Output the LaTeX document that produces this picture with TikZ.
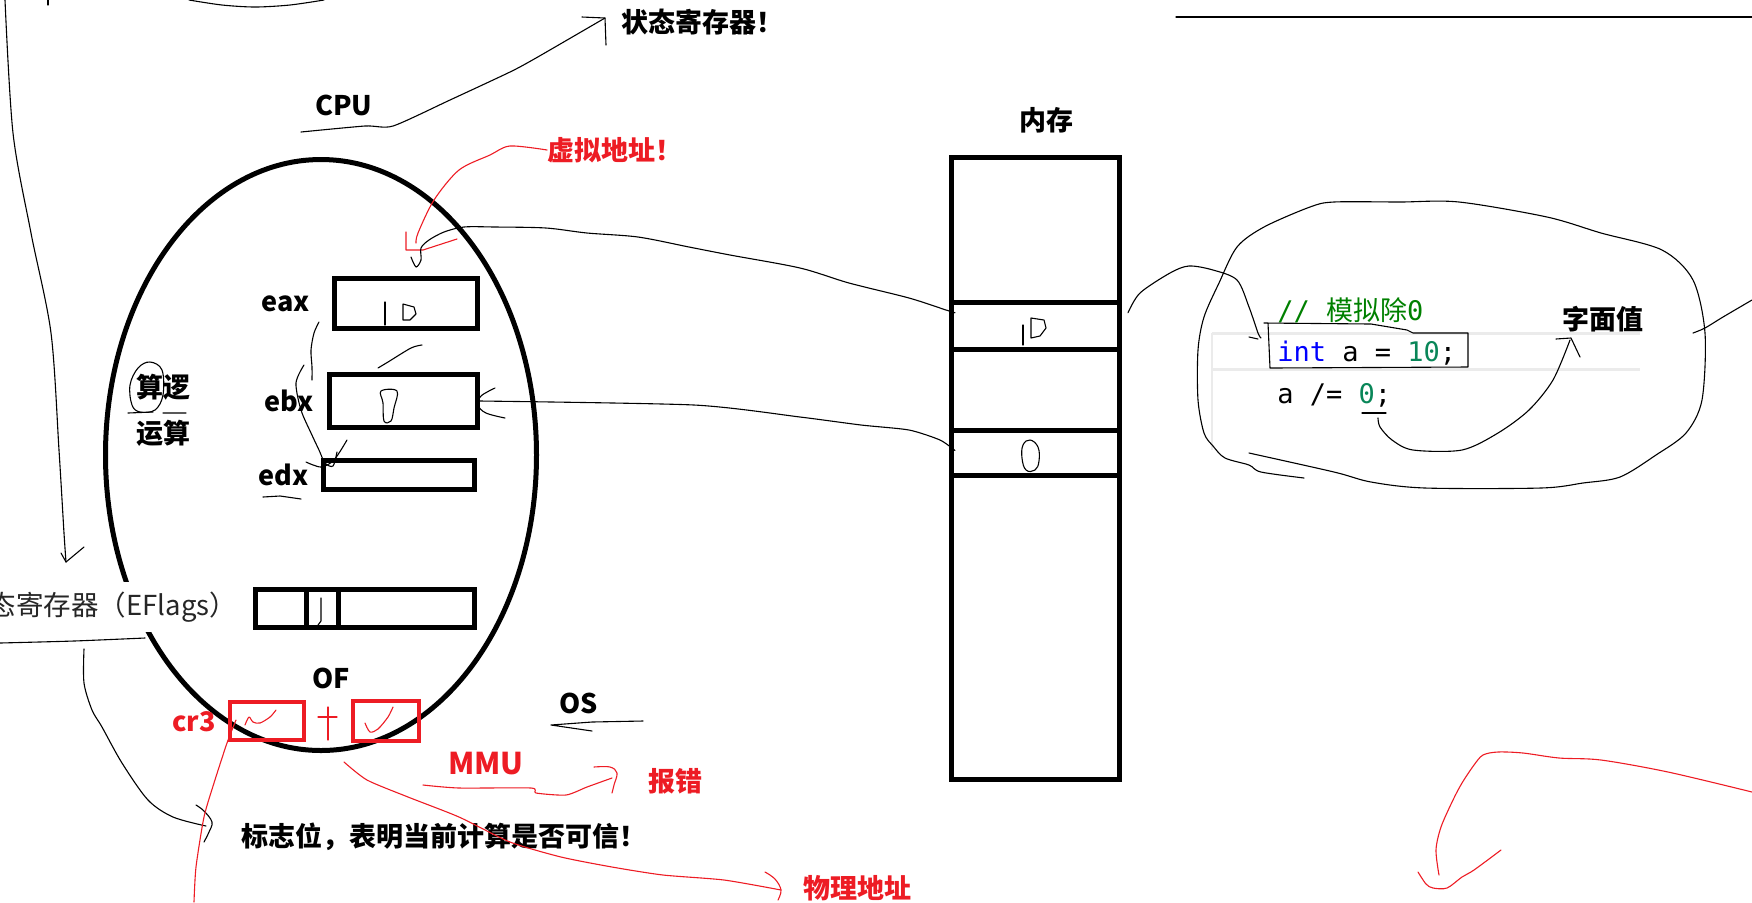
\documentclass[tikz,border=0pt]{standalone}
\usepackage{fontspec}
\newfontfamily\cjk{Noto Sans CJK SC}
\newfontfamily\codefont{DejaVu Sans Mono}
\usetikzlibrary{shapes.geometric, arrows.meta, positioning, calc}
\definecolor{paintred}{RGB}{237,28,36}
\definecolor{cmtgreen}{RGB}{0,128,0}
\definecolor{numgreen}{RGB}{9,134,88}
\definecolor{kwblue}{RGB}{0,0,255}
\newcommand{\lblsize}{\fontsize{13.5}{16}\selectfont}

\begin{document}
\begin{tikzpicture}[
    x=0.5pt, y=-0.5pt,
    every node/.style={inner sep=0pt},
    lbl/.style={font=\cjk\bfseries\lblsize},
    redlbl/.style={lbl, text=paintred},
    reg/.style={rectangle, draw, line width=2.5pt},
    cell/.style={rectangle, draw, line width=2.5pt, minimum width=84pt},
    redbox/.style={rectangle, draw=paintred, line width=2pt},
    code/.style={font=\codefont\lblsize, anchor=base west},
    hand/.style={line width=0.55pt, line join=round, line cap=round},
    redhand/.style={hand, draw=paintred}
]
\clip (0,0) rectangle (1752,902);

% editor background lines
\draw[black!8, line width=1.5pt] (1212,333) -- (1640,333) (1212,369) -- (1640,369);
\draw[black!8, line width=0.6pt] (1212,333) -- (1212,450);

% CPU
\node[draw, ellipse, line width=2.5pt, minimum width=215.5pt, minimum height=295.5pt] (cpubody) at (321,455) {};
\node[lbl] (cpu) at (344,105) {CPU};
\node[lbl] (ztjcq) at (702,22) {状态寄存器！};
\node[redlbl] (xndz) at (615,150) {虚拟地址！};

\node[reg, minimum width=71.5pt, minimum height=25pt] (eax) at (406,303.5) {};
\node[reg, minimum width=74pt, minimum height=26.5pt] (ebx) at (403.5,401) {};
\node[reg, minimum width=75.5pt, minimum height=14.5pt] (edx) at (399,475) {};
\node[reg, minimum width=109.5pt, minimum height=19pt] (eflags) at (365,608.5) {};
\draw[line width=2.5pt] ([xshift=26.75pt]eflags.north west) -- ([xshift=26.75pt]eflags.south west)
    ([xshift=42.75pt]eflags.north west) -- ([xshift=42.75pt]eflags.south west);

\node[lbl, left=11pt of eax] (eaxlbl) {eax};
\node[lbl, left=6.5pt of ebx] (ebxlbl) {ebx};
\node[lbl, left=6pt of edx] (edxlbl) {edx};
\node[lbl, align=center, font=\cjk\bfseries\fontsize{13.5}{23}\selectfont] (alu) at (163,410) {算逻\\运算};
\node[font=\cjk\fontsize{13.75}{16}\selectfont, text=black!85, fill=white, minimum height=25pt, anchor=west] (eflagslbl) at (-39,607) {状态寄存器（EFlags）};
\node[lbl] (oflbl) at (331,678) {OF};
\node[redlbl] (cr3) at (194,722) {cr3};
\node[redbox, minimum width=37pt, minimum height=19pt] (box1) at (267,721) {};
\node[redbox, minimum width=33pt, minimum height=20pt] (box2) at (386,721) {};
\node[lbl] (os) at (579,703) {OS};
\node[redlbl, font=\cjk\bfseries\fontsize{15}{18}\selectfont] (mmu) at (486,764) {MMU};
\node[redlbl] (baocuo) at (675,781) {报错};
\node[lbl] (bzw) at (444,837) {标志位，表明当前计算是否可信！};
\node[redlbl] (wldz) at (857,888) {物理地址};

% memory
\node[lbl] (nc) at (1046,120) {内存};
\node[cell, minimum height=311pt] (mem) at (1035.5,468.5) {};
\node[cell, minimum height=23.25pt] (m10) at (1035.5,325.75) {};
\node[cell, minimum height=22.5pt] (m0) at (1035.5,452.5) {};

% code
\node[code] (cmt) at (1277,320) {\textcolor{cmtgreen}{// {\cjk 模拟除}0}};
\node[code] (decl) at (1277,361) {\textcolor{kwblue}{int} a = \textcolor{numgreen}{10};};
\node[code] (divl) at (1277,403) {a /= \textcolor{numgreen}{0};};
\node[lbl] (zmz) at (1603,319) {字面值};

% handwritten values
\draw[hand] (385,302) -- (385,325);
\draw[hand] (403,304) -- (403,320) -- (410,320) -- (416,314) -- (414,307) -- cycle;
\draw[hand] plot[smooth cycle, tension=0.6] coordinates {(381,391) (397,391) (394,408) (391,421) (384,421) (383,403)};
\draw[hand] (321,598) -- (321,621) -- (318,625);
\draw[hand] (1023,325) -- (1023,345);
\draw[hand] (1031,318) -- (1031,338) -- (1040,336) -- (1046,328) -- (1044,320) -- cycle;
\draw[hand] plot[smooth cycle, tension=0.7] coordinates {(1030,440) (1038,447) (1039,461) (1035,470) (1026,470) (1022,458) (1023,445)};

% top and left strokes
\draw[hand] (1176,17) -- (1752,17);
\draw[hand] plot[smooth, tension=0.5] coordinates {(189,0) (222,5) (255,7) (290,5) (324,0)};
\draw[hand] (48,0) -- (48,5);
\draw[hand] plot[smooth, tension=0.5] coordinates {(5,0) (13,133) (31,233) (51,333) (59,450) (64,533) (66,562)};
\draw[hand] (61,553) -- (66,562) -- (84,547);
\draw[hand] plot[smooth, tension=0.4] coordinates {(301,132) (365,126) (393,126) (450,100) (510,72) (536,58) (605,18)};
\draw[hand] (582,17) -- (605,18) -- (606,45);

% virtual address
\draw[redhand] plot[smooth, tension=0.5] coordinates {(xndz.west) (510,146) (490,155) (459,170) (434,200) (418,233) (416,243)};
\draw[redhand] (406,232) -- (406,250) -- (423,250) -- (457,239);

% eax -> memory
\draw[hand] plot[smooth, tension=0.5] coordinates {(411,257) (416,267) (421,260) (421,248) (429,240) (444,232) (464,227) (495,227) (546,228) (587,233) (638,237) (689,247) (730,255) (800,268) (849,283) (909,298) (946,310) ([shift={(6,-13)}]m10.west)};

% ebx -> memory
\draw[hand] plot[smooth, tension=0.6] coordinates {(495,388) (481,396) (478,405) (486,413) (505,418)};
\draw[hand] plot[smooth, tension=0.4] coordinates {(ebx.east) (694,405) (800,417) (861,425) (909,430) (940,440) ([shift={(6,-2)}]m0.west)};

% scribbles between registers
\draw[hand] plot[smooth, tension=0.5] coordinates {(319,322) (314,333) (311,350) (312,367) (312,380)};
\draw[hand] plot[smooth, tension=0.5] coordinates {(304,365) (296,383) (301,410) (311,433) (319,450) (325,463) (333,466) (337,452)};
\draw[hand] plot[smooth, tension=0.5] coordinates {(378,368) (388,362) (411,348) (422,345)};
\draw[hand] plot[smooth, tension=0.5] coordinates {(306,462) (321,467) (334,460) (347,440)};
\draw[hand] plot[smooth cycle, tension=0.6] coordinates {(150,362) (162,370) (163,395) (155,410) (140,412) (132,405) (130,385) (138,368)};
\draw[hand] (128,413) -- (153,412) (163,413) -- (186,413);
\draw[hand] (263,497) -- (280,496) -- (301,499);

% eflags -> flag text
\draw[hand] plot[smooth, tension=0.4] coordinates {(0,643) (74,641) (145,638)};
\draw[hand] plot[smooth, tension=0.5] coordinates {(84,649) (84,683) (92,710) (102,727) (122,763) (148,800) (173,817) (206,826)};
\draw[hand] plot[smooth, tension=0.6] coordinates {(196,805) (204,811) (212,822) (209,832) (204,842)};

% OF check
\draw[redhand] plot[smooth, tension=0.5] coordinates {(245,725) (249,717) (253,722) (260,723) (270,717) (276,710)};
\draw[redhand] plot[smooth, tension=0.5] coordinates {(365,723) (370,732) (378,729) (388,717) (393,707)};
\draw[redhand] (328,707) -- (328,740) (318,717) -- (337,717);
\draw[redhand] plot[smooth, tension=0.4] coordinates {(236,720) (227,743) (214,783) (204,817) (196,867) (194,902)};

% physical address
\draw[redhand] plot[smooth, tension=0.4] coordinates {(344,762) (367,780) (408,797) (459,817) (510,842) (561,857) (612,867) (663,875) (724,880) (781,890)};
\draw[redhand] plot[smooth, tension=0.6] coordinates {(765,872) (775,879) (781,890) (778,900)};

% MMU -> error
\draw[redhand] plot[smooth, tension=0.4] coordinates {(423,785) (459,788) (531,788) (536,793) (566,795) (587,787) (612,778)};
\draw[redhand] plot[smooth, tension=0.6] coordinates {(594,767) (610,767) (617,773) (614,785) (612,793)};
\draw[hand] (551,725) -- (592,722) -- (643,721) (551,725) -- (592,731);

% memory -> code
\draw[hand] plot[smooth, tension=0.5] coordinates {([shift={(6,-13)}]m10.east) (1140,293) (1170,273) (1189,266) (1213,270) (1237,280) (1249,307) (1258,333) (1261,338)};
\draw[hand] (1249,337) -- (1258,339);
\draw[hand] (1264,323) -- (1371,324) -- (1407,330) -- (1413,333) -- (1468,333) -- (1468,367) -- (1270,368) -- (1268,323);
\draw[hand] (1362,413) -- (1386,413);
\draw[hand] plot[smooth, tension=0.5] coordinates {(1378,418) (1380,427) (1392,440) (1413,450) (1462,450) (1498,433) (1529,410) (1553,380) (1570,340)};
\draw[hand] (1556,339) -- (1571,338) -- (1580,357);

% code cloud
\draw[hand] plot[smooth, tension=0.5] coordinates {(1304,478) (1261,472) (1249,465) (1225,458) (1213,446) (1204,433) (1198,400) (1198,350) (1204,317) (1219,283) (1237,247) (1264,227) (1310,207) (1334,202) (1400,202) (1459,202) (1547,217) (1601,233) (1662,250) (1693,280) (1705,333) (1702,400) (1686,433) (1656,455) (1620,477) (1583,483) (1541,488) (1425,488) (1371,482) (1334,472) (1249,453)};
\draw[hand] plot[smooth, tension=0.5] coordinates {(1693,333) (1705,328) (1723,317) (1752,300)};

% bottom right stroke
\draw[redhand] plot[smooth, tension=0.5] coordinates {(1752,792) (1668,772) (1601,760) (1559,758) (1523,753) (1498,752) (1483,755) (1474,765) (1462,783) (1453,800) (1441,827) (1436,850) (1439,875)};
\draw[redhand] plot[smooth, tension=0.5] coordinates {(1418,872) (1426,884) (1433,888) (1447,888) (1462,877) (1474,870) (1501,850)};
\end{tikzpicture}
\end{document}
